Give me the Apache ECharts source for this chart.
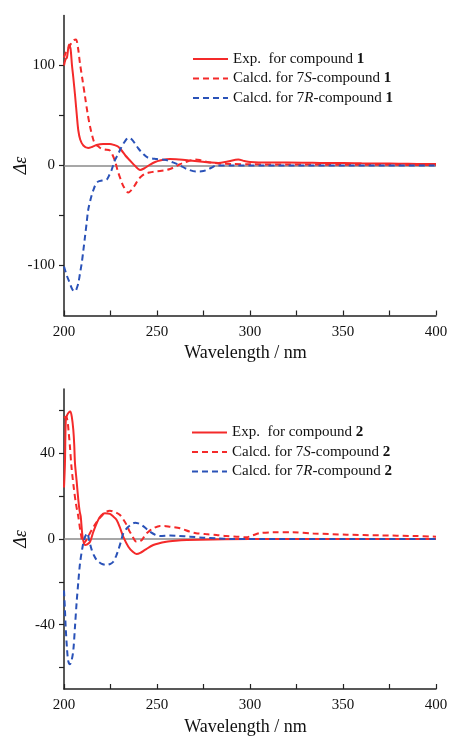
<!DOCTYPE html>
<html>
<head>
<meta charset="utf-8">
<script src="https://cdn.jsdelivr.net/npm/echarts@6/dist/echarts.min.js"></script>
<style>
html,body{margin:0;padding:0;background:#fff;}
#main{width:449px;height:738px;}
</style>
</head>
<body>
<div id="main"></div>
<script>
// ---- Data (wavelength nm, Δε) ----
const exp1 = [[200,100],[200.8,106],[201.6,108],[202.7,121],[203.5,117],[204.3,100],[205,88],[206,69],[207,48],[207.7,35],[208.7,26],[210.4,20],[213,17.5],[215,18.5],[217.5,20.5],[221,21.5],[224.7,21.5],[227,20.5],[229,19],[231,15],[233,10],[235.5,5],[238,0],[240.9,-4.5],[243,-3],[246,0.5],[249,3.5],[251.6,5],[257,6.5],[262,6],[267.7,5],[273,4],[278.5,3],[283,2.5],[288,4],[293.7,6],[297,4.5],[300,3.5],[310,3],[320,3],[330,2.8],[340,2.5],[350,2.5],[360,2.2],[370,2],[380,1.8],[390,1.6],[400,1.5]];
const calcS1 = [[200,108],[201,113],[202,116],[203.5,121],[205,125],[206.4,126],[207.5,118],[208.6,102],[210,85],[211.3,69],[212.7,52],[214,39],[215.8,25.5],[217,21],[218.5,19],[220,17],[222,16],[224.7,15],[226,11],[227.5,4],[229,-6],[230.5,-14],[232,-21],[234.6,-27],[236.5,-24],[238,-20],[240,-14],[241.8,-10.5],[244,-8],[246,-7],[249,-6],[251.6,-5.5],[255,-4.5],[257,-3.5],[260,-1],[262,1],[264,2.5],[267,4.5],[270.4,6],[273,5.5],[275.8,4],[279,3],[283,2],[290,1.5],[300,1.2],[320,1],[350,0.8],[400,0.5]];
const calcR1 = [[200,-101],[201.5,-110],[203.2,-118],[204.5,-124],[206,-126],[207,-122],[207.7,-118],[208.6,-108],[209.5,-98],[210.4,-85],[211.3,-71],[212.2,-57],[213,-44.5],[214.4,-33],[215.8,-24.5],[217,-19],[218.4,-16],[220.5,-15],[223,-14],[224.5,-9],[225.6,-4.5],[227.4,5.5],[229,11],[230.5,17],[232.5,23.5],[234.6,27.5],[236.5,26],[238.5,21],[240,17],[242.6,11.5],[245,8],[249.8,6.5],[255,5.5],[258,3.5],[262,0.5],[266,-3.5],[271,-6],[274,-5.8],[276.7,-4.5],[279,-2.5],[282,0],[290,0],[400,0]];

const exp2 = [[200,24],[200.5,35],[201,56],[201.8,58],[202.5,59],[203.4,59.5],[204.2,57],[205,51],[205.5,44],[205.9,35.4],[206.8,27],[207.7,18.2],[208.4,13],[209,10.4],[210,1],[211.3,-2.8],[212.5,-2.5],[214,-1.3],[215.8,3.4],[218.4,8.9],[220,11],[222,12],[224.7,11.7],[226.5,10.5],[228.3,8.9],[230,5.5],[231.9,1],[234.6,-3.6],[237,-6],[239,-7],[241,-6.5],[243.5,-5.1],[248,-2.8],[255,-1.3],[260,-0.8],[266,-0.5],[280,-0.2],[300,0],[400,0]];
const calcS2 = [[200,56.5],[201,57],[201.8,55.5],[202.5,50],[203.2,43],[204,33.8],[204.7,28],[205.4,22.9],[206.5,16],[207.7,10.4],[209,2.7],[210.4,-2],[212,-0.5],[213.5,2],[214.9,4.2],[216.5,6.5],[218.4,8.9],[220.5,11],[222.9,12.8],[224.7,13.2],[226.5,12.8],[228.3,12.2],[230.1,11.2],[232,9],[233.7,6.5],[235,4],[236.4,1.9],[239,-1.3],[241.8,-0.5],[243,1],[244.5,2.7],[246,3.8],[248,5],[251.6,6.1],[254,6.1],[257,5.7],[262.4,5],[267.7,3.4],[271,2.7],[276,2.3],[282,1.9],[287,1.4],[292.8,1.1],[298,0.8],[301,1.5],[305,2.7],[312.5,3.1],[323,3.1],[334,2.6],[352,2],[370,1.7],[388,1.4],[400,1.1]];
const calcR2 = [[200,-24],[200.5,-33],[200.9,-41],[201.6,-51],[202.3,-57],[203.2,-58.5],[204,-57],[205,-52],[205.9,-41],[206.8,-29.5],[207.7,-20],[208.6,-11.5],[210,-3.6],[211.3,1],[212.5,2.8],[213.5,-0.5],[214.9,-5.1],[216.2,-7.8],[217.6,-9.8],[220,-11.5],[222.9,-12.1],[225,-11.6],[226.5,-10.6],[228,-8],[229.2,-5.1],[230.5,-1.5],[231.9,2.7],[233.3,4.5],[234.6,5.7],[236.5,7],[238.2,7.6],[240,7.3],[241.8,6.5],[244,5],[246.2,3.4],[249,2],[251.6,1.4],[257,1.6],[262,1.4],[267.7,1.1],[275,0.6],[282,0.3],[290,0],[400,0]];

// ---- Axis ticks / labels ----
const xTicks = [200,225,250,275,300,325,350,375,400];
const xTickLabels = [200,250,300,350,400];
const y1Ticks = [-100,-50,0,50,100];
const y1TickLabels = [-100,0,100];
const y2Ticks = [-60,-40,-20,0,20,40,60];
const y2TickLabels = [-40,0,40];

const names1 = ['Exp. for compound 1','Calcd. for 7S-compound 1','Calcd. for 7R-compound 1'];
const names2 = ['Exp. for compound 2','Calcd. for 7S-compound 2','Calcd. for 7R-compound 2'];

const RED = '#f42a2a', BLUE = '#2a52b8', FONT = '"Liberation Serif","Times New Roman",serif';
const DASH = [6,4];

function fmtLegend(name){
  const m = name.match(/^Exp\. for compound (\d)$/);
  if (m) return 'Exp.  for compound {b|' + m[1] + '}';
  const c = name.match(/^Calcd\. for 7([SR])-compound (\d)$/);
  if (c) return 'Calcd. for 7{i|' + c[1] + '}-compound {b|' + c[2] + '}';
  return name;
}

function xAxis(gi){
  return {
    type:'value', gridIndex:gi, min:200, max:400,
    name:'Wavelength / nm', nameLocation:'middle', nameGap:29, nameMoveOverlap:false,
    nameTextStyle:{fontFamily:FONT, fontSize:18, color:'#111', padding:[0,9,0,0]},
    axisLine:{onZero:false, lineStyle:{color:'#222', width:1.5}},
    axisTick:{inside:true, length:5, customValues:xTicks, lineStyle:{color:'#222', width:1.2}},
    axisLabel:{customValues:xTickLabels, margin:9, fontFamily:FONT, fontSize:15, color:'#111'},
    splitLine:{show:false}
  };
}
function yAxis(gi, mn, mx, ticks, labels){
  return {
    type:'value', gridIndex:gi, min:mn, max:mx,
    name:'Δε', nameLocation:'middle', nameGap:34, nameMoveOverlap:false,
    nameTextStyle:{fontFamily:FONT, fontSize:18, fontStyle:'italic', color:'#111'},
    axisLine:{onZero:false, lineStyle:{color:'#222', width:1.5}},
    axisTick:{inside:false, length:5, customValues:ticks, lineStyle:{color:'#222', width:1.2}},
    axisLabel:{customValues:labels, margin:9, fontFamily:FONT, fontSize:15, color:'#111'},
    splitLine:{show:false}
  };
}
function zeroLine(){
  return {silent:true, symbol:'none', z:1, label:{show:false},
    lineStyle:{color:'#8a8a8a', type:'solid', width:1.5},
    emphasis:{disabled:true}, data:[{yAxis:0}]};
}
function line(name, data, gi, color, dashed, withZero){
  const s = {
    name, type:'line', xAxisIndex:gi, yAxisIndex:gi, data,
    symbol:'none', smooth:0.3, z:3,
    lineStyle:{color, width:2, type: dashed ? DASH : 'solid'},
    itemStyle:{color},
    emphasis:{disabled:true}
  };
  if (withZero) s.markLine = zeroLine();
  return s;
}
function legend(names, top, left){
  return {
    data:names, orient:'vertical', top, left, padding:0,
    itemWidth:35, itemHeight:15, itemGap:4.5,
    itemStyle:{opacity:0},
    selectedMode:false,
    formatter: fmtLegend,
    textStyle:{fontFamily:FONT, fontSize:15, color:'#111', lineHeight:15,
      rich:{
        b:{fontFamily:FONT, fontSize:15, fontWeight:'bold', color:'#111', lineHeight:15},
        i:{fontFamily:FONT, fontSize:15, fontStyle:'italic', color:'#111', lineHeight:15}
      }}
  };
}

const chart = echarts.init(document.getElementById('main'), null, {renderer:'canvas'});
chart.setOption({
  animation:false,
  backgroundColor:'#fff',
  grid:[
    {left:64, top:15.5, width:372, height:300, containLabel:false, outerBoundsMode:'none'},
    {left:64, top:389, width:372, height:300, containLabel:false, outerBoundsMode:'none'}
  ],
  xAxis:[xAxis(0), xAxis(1)],
  yAxis:[yAxis(0,-150,150,y1Ticks,y1TickLabels), yAxis(1,-70,70,y2Ticks,y2TickLabels)],
  legend:[legend(names1, 51.5, 192), legend(names2, 425, 191)],
  series:[
    line(names1[0], exp1, 0, RED, false, true),
    line(names1[1], calcS1, 0, RED, true, false),
    line(names1[2], calcR1, 0, BLUE, true, false),
    line(names2[0], exp2, 1, RED, false, true),
    line(names2[1], calcS2, 1, RED, true, false),
    line(names2[2], calcR2, 1, BLUE, true, false)
  ]
});
</script>
</body>
</html>
